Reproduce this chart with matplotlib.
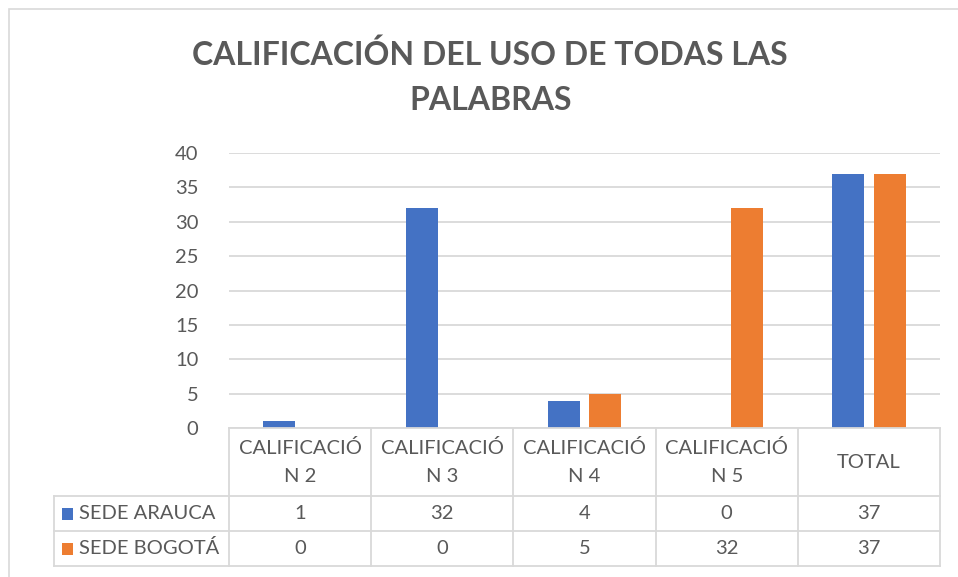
import numpy as np
import matplotlib.pyplot as plt
from matplotlib.patches import Rectangle

categories = ["CALIFICACIÓ\nN 2", "CALIFICACIÓ\nN 3", "CALIFICACIÓ\nN 4", "CALIFICACIÓ\nN 5", "TOTAL"]
series_names = ["SEDE ARAUCA", "SEDE BOGOTÁ"]
arauca = [1, 32, 4, 0, 37]
bogota = [0, 0, 5, 32, 37]
colors = ["#4472C4", "#ED7D31"]

plt.rcParams['font.family'] = ['Lato', 'DejaVu Sans']
txt = "#595959"
grid = "#d9d9d9"

W, H = 958, 577
fig = plt.figure(figsize=(W / 100, H / 100), dpi=100)

# pixel helpers
def fx(px):
    return px / W

def fy(py):
    return 1 - py / H

left, right, top, bot = 229, 940, 153, 428
ax = fig.add_axes([fx(left), fy(bot), fx(right - left), (bot - top) / H])

x = np.arange(len(categories))
bw = 0.225
ax.bar(x - 0.145, arauca, bw, color=colors[0], zorder=3)
ax.bar(x + 0.145, bogota, bw, color=colors[1], zorder=3)

ax.set_xlim(-0.5, len(categories) - 0.5)
ax.set_ylim(0, 40)
ax.set_yticks(range(0, 41, 5))
ax.yaxis.grid(True, color=grid, lw=1.3, zorder=0)
ax.set_xticks([])
for s in ax.spines.values():
    s.set_visible(False)
ax.tick_params(axis='y', length=0, pad=22, labelsize=14.5, labelcolor=txt)

# chart border
fig.add_artist(Rectangle((fx(9), fy(H + 5)), fx(W), (H - 4) / H, transform=fig.transFigure,
                         fill=False, ec=grid, lw=1.2))

# title
fig.text(fx(490), fy(55), "CALIFICACIÓN DEL USO DE TODAS LAS", ha='center', va='center',
         fontsize=23, fontweight='bold', color=txt)
fig.text(fx(491), fy(100), "PALABRAS", ha='center', va='center',
         fontsize=23, fontweight='bold', color=txt)

# data table
col_w = (right - left) / len(categories)
edges = [left + i * col_w for i in range(len(categories) + 1)]
row_y = [bot, 496, 531, 566]
lab_left = 54
fs = 14.5

def hline(y, x0, x1):
    fig.add_artist(plt.Line2D([fx(x0), fx(x1)], [fy(y), fy(y)], color=grid, lw=1.3))

def vline(xp, y0, y1):
    fig.add_artist(plt.Line2D([fx(xp), fx(xp)], [fy(y0), fy(y1)], color=grid, lw=1.3))

hline(bot, left, right)
for yy in row_y[1:]:
    hline(yy, lab_left, right)
for e in edges:
    vline(e, bot, row_y[-1])
vline(lab_left, row_y[1], row_y[-1])

for i, c in enumerate(categories):
    cx = (edges[i] + edges[i + 1]) / 2
    fig.text(fx(cx), fy((row_y[0] + row_y[1]) / 2), c, ha='center', va='center',
             fontsize=fs, color=txt, linespacing=1.75)

for r, (name, vals) in enumerate(zip(series_names, [arauca, bogota])):
    cy = (row_y[r + 1] + row_y[r + 2]) / 2
    fig.add_artist(Rectangle((fx(62), fy(cy + 6)), fx(11), 12 / H, transform=fig.transFigure,
                             color=colors[r], lw=0))
    fig.text(fx(79), fy(cy), name, ha='left', va='center', fontsize=fs, color=txt)
    for i, v in enumerate(vals):
        cx = (edges[i] + edges[i + 1]) / 2
        fig.text(fx(cx), fy(cy), str(v), ha='center', va='center', fontsize=fs, color=txt)

fig.savefig("out.png", dpi=100)
